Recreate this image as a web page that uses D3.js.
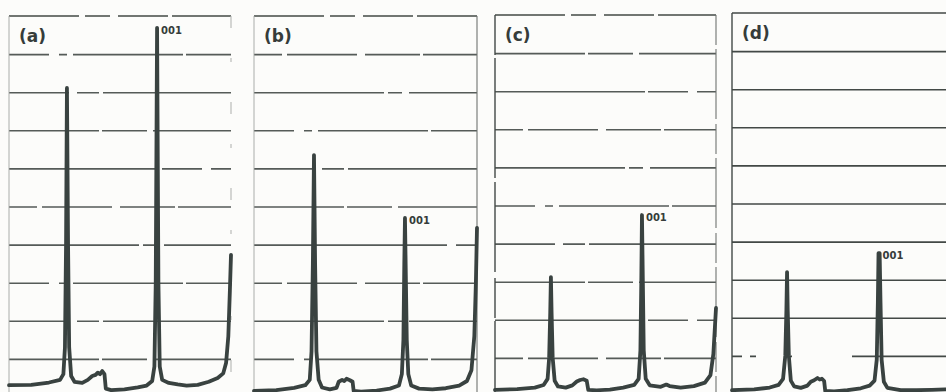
<!DOCTYPE html>
<html>
<head>
<meta charset="utf-8">
<script src="https://cdn.jsdelivr.net/npm/d3@7"></script>
<style>
  html, body { margin: 0; padding: 0; background: #fcfcfa; }
  svg { display: block; }
</style>
</head>
<body>
<svg id="chart" width="946" height="392"></svg>
<script>
// four diffraction traces, x = 2θ (arbitrary 0..10 span), y = intensity in grid units

const panelLabels = ['(a)', '(b)', '(c)', '(d)']
const peakLabel = '001'
const gridLevels = [1, 2, 3, 4, 5, 6, 7, 8, 9]

const traceA = [
  [0, 0.31], [1.0, 0.32], [1.8, 0.38], [2.3, 0.45], [2.45, 0.6], [2.52, 1.3], [2.57, 4.0],
  [2.61, 8.11], [2.66, 4.0], [2.71, 1.3], [2.8, 0.55], [2.95, 0.4], [3.3, 0.37], [3.55, 0.45],
  [3.75, 0.55], [3.9, 0.58], [4.0, 0.64], [4.1, 0.6], [4.2, 0.68], [4.3, 0.6], [4.36, 0.22],
  [4.6, 0.18], [5.2, 0.2], [5.8, 0.25], [6.2, 0.3], [6.45, 0.42], [6.55, 0.8], [6.61, 3.0],
  [6.67, 9.69], [6.73, 3.0], [6.79, 0.8], [6.9, 0.45], [7.2, 0.37], [7.6, 0.33], [8.0, 0.3],
  [8.5, 0.32], [9.0, 0.4], [9.4, 0.5], [9.65, 0.62], [9.78, 0.9], [9.88, 1.6], [9.95, 2.8],
  [10, 3.73]
]

const traceB = [
  [0, 0.16], [1.0, 0.18], [1.8, 0.24], [2.3, 0.31], [2.5, 0.45], [2.58, 1.2], [2.64, 3.5],
  [2.69, 6.35], [2.74, 3.5], [2.8, 1.2], [2.9, 0.45], [3.05, 0.25], [3.4, 0.2], [3.7, 0.24],
  [3.8, 0.4], [3.95, 0.45], [4.05, 0.42], [4.15, 0.48], [4.3, 0.44], [4.42, 0.4], [4.47, 0.16],
  [4.8, 0.14], [5.5, 0.17], [6.1, 0.22], [6.5, 0.3], [6.63, 0.6], [6.7, 1.5], [6.74, 3.5],
  [6.77, 4.7], [6.8, 3.5], [6.85, 1.5], [6.92, 0.6], [7.05, 0.3], [7.4, 0.22], [8.0, 0.2],
  [8.6, 0.23], [9.2, 0.3], [9.55, 0.42], [9.75, 0.7], [9.88, 1.6], [9.95, 3.0], [10, 4.44]
]

const traceC = [
  [0, 0.16], [1.0, 0.18], [1.8, 0.22], [2.2, 0.29], [2.38, 0.45], [2.45, 1.0], [2.5, 2.2],
  [2.53, 3.12], [2.56, 2.2], [2.61, 1.0], [2.7, 0.4], [2.85, 0.25], [3.2, 0.22], [3.5, 0.28],
  [3.7, 0.38], [3.85, 0.42], [4.0, 0.44], [4.15, 0.4], [4.22, 0.16], [4.6, 0.15], [5.2, 0.17],
  [5.8, 0.22], [6.3, 0.29], [6.5, 0.45], [6.58, 1.2], [6.62, 3.0], [6.65, 4.75], [6.69, 3.0],
  [6.73, 1.2], [6.82, 0.45], [7.0, 0.28], [7.5, 0.24], [7.75, 0.3], [7.9, 0.26], [8.4, 0.22],
  [9.0, 0.26], [9.5, 0.35], [9.75, 0.55], [9.88, 1.1], [9.95, 1.8], [10, 2.31]
]

const traceD = [
  [0, 0.1], [1.0, 0.12], [1.7, 0.17], [2.1, 0.24], [2.3, 0.4], [2.4, 1.0], [2.45, 2.2],
  [2.48, 3.2], [2.51, 2.2], [2.56, 1.0], [2.65, 0.35], [2.8, 0.2], [3.1, 0.16], [3.4, 0.22],
  [3.55, 0.32], [3.7, 0.36], [3.85, 0.42], [3.95, 0.38], [4.05, 0.4], [4.15, 0.34], [4.2, 0.08],
  [4.6, 0.07], [5.2, 0.1], [5.8, 0.15], [6.2, 0.22], [6.42, 0.35], [6.52, 0.9], [6.57, 2.4],
  [6.6, 3.7], [6.65, 3.7], [6.69, 2.4], [6.74, 0.9], [6.84, 0.32], [7.0, 0.16], [7.6, 0.1],
  [8.3, 0.1], [9.0, 0.11], [9.6, 0.12], [10, 0.13]
]

const traces = [traceA, traceB, traceC, traceD]

// 001 reflection position per panel
const peak001X = [6.67, 6.77, 6.65, 6.6]
const peak001Y = [9.69, 4.7, 4.75, 3.7]

// layout
const frames = [
  { left: 9, right: 231, top: 16 },
  { left: 254, right: 477, top: 16 },
  { left: 495, right: 716, top: 15 },
  { left: 732, right: 954, top: 13 }
]
const unitPx = 38.1

const ink = '#394240'
const gridInk = '#434946'

// broken scan lines for the first three panels
const breaks = [
  '90 3 45 6 120 2',
  '60 8 22 4 140 5',
  '40 10 8 6 110 3 70 4',
  '130 4 14 7 80 3',
  '28 5 70 8 55 3 100 4',
  '150 3 40 9 60 4'
]

const svg = d3.select('#chart')

frames.forEach((f, i) => {
  const x = d3.scaleLinear().domain([0, 10]).range([f.left, f.right])
  const y = d3.scaleLinear().domain([0, 10]).range([f.top + unitPx * 10, f.top])
  const g = svg.append('g').attr('class', 'panel')
  const solid = i === 3

  // gridlines via axis
  const grid = g.append('g')
    .attr('transform', `translate(${f.left},0)`)
    .call(d3.axisLeft(y).tickValues(gridLevels).tickSize(-(f.right - f.left)).tickFormat(''))
  grid.select('.domain').remove()
  grid.selectAll('.tick line')
    .attr('stroke', gridInk)
    .attr('stroke-width', 1.6)
    .attr('stroke-opacity', solid ? 1 : 0.9)
    .attr('stroke-dasharray', (d, k) => solid ? (d === 1 ? '10 8 6 28 8 60 300' : null) : breaks[(k + i * 2) % breaks.length])

  // frame
  g.append('line')
    .attr('x1', f.left).attr('x2', f.right)
    .attr('y1', f.top).attr('y2', f.top)
    .attr('stroke', gridInk).attr('stroke-width', 1.5)
    .attr('stroke-dasharray', solid ? null : '70 6 25 8 50 4 90 5')
  g.append('line')
    .attr('x1', f.left).attr('x2', f.left)
    .attr('y1', f.top).attr('y2', 392)
    .attr('stroke', i >= 2 ? gridInk : '#a2a5a2')
    .attr('stroke-width', i >= 2 ? 1.4 : 0.9)
    .attr('stroke-dasharray', i === 2 ? '40 3 120 4 90 6' : null)
  g.append('line')
    .attr('x1', f.right).attr('x2', f.right)
    .attr('y1', f.top).attr('y2', 392)
    .attr('stroke', i === 0 ? '#b3b5b2' : '#6f7370')
    .attr('stroke-width', 1.1)
    .attr('stroke-dasharray', i === 0 ? '12 30 4 40' : i === 2 ? '30 4 70 5' : null)

  // trace
  const line = d3.line()
    .x(d => x(d[0]))
    .y(d => y(d[1]))
  g.append('path')
    .datum(traces[i])
    .attr('d', line)
    .attr('fill', 'none')
    .attr('stroke', ink)
    .attr('stroke-width', 3.8)
    .attr('stroke-linejoin', 'round')
    .attr('stroke-linecap', 'round')

  // panel label
  g.append('text')
    .attr('x', f.left + 10)
    .attr('y', f.top + 26)
    .attr('font-family', 'DejaVu Sans, sans-serif')
    .attr('font-weight', 'bold')
    .attr('font-size', 17)
    .attr('fill', '#363c3a')
    .text(panelLabels[i])

  // 001 label
  const px = x(peak001X[i])
  const py = Math.max(y(peak001Y[i]), f.top + 9)
  g.append('text')
    .attr('x', px + 4)
    .attr('y', py + 6)
    .attr('font-family', 'DejaVu Sans, sans-serif')
    .attr('font-weight', 'bold')
    .attr('font-size', 10)
    .attr('fill', '#363c3a')
    .text(peakLabel)
})
</script>
</body>
</html>
